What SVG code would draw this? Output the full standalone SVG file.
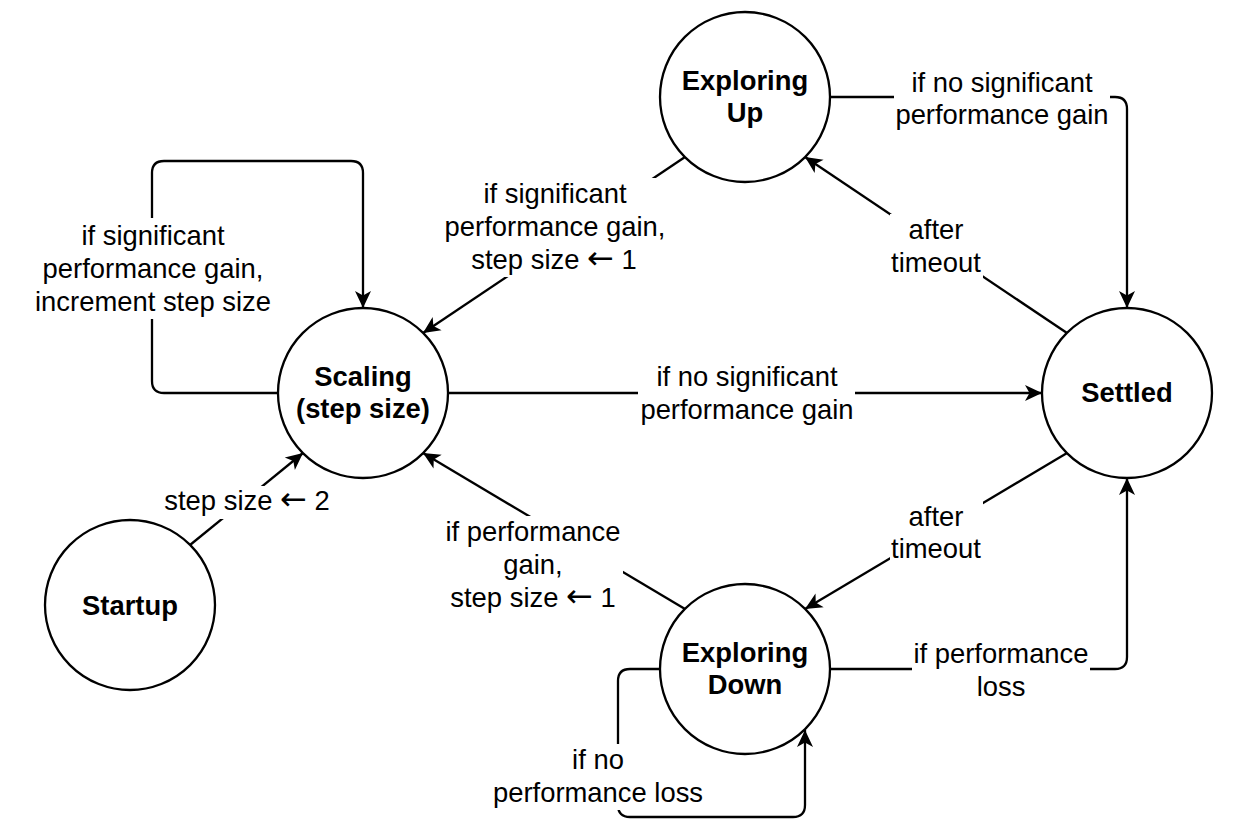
<svg xmlns="http://www.w3.org/2000/svg" width="1240" height="833" viewBox="0 0 1240 833">
<defs>
<style>
.node{fill:#fff;stroke:#000;stroke-width:2.3}
.nt{font-family:"Liberation Sans",Arial,Helvetica,sans-serif;font-size:27.4px;font-weight:bold;text-anchor:middle;fill:#000}
.edge{fill:none;stroke:#000;stroke-width:2.3}
.lt{font-family:"Liberation Sans",Arial,Helvetica,sans-serif;font-size:27.4px;text-anchor:middle;fill:#000}
.ar{font-family:"DejaVu Sans","Liberation Sans",sans-serif;font-size:32px}
.lbg{fill:#fff;stroke:none}
</style>
<marker id="arr" markerUnits="userSpaceOnUse" markerWidth="24" markerHeight="24" viewBox="-20 -12 24 24" refX="0" refY="0" orient="auto">
<path d="M0,0 L-17,-8 L-12.5,0 L-17,8 Z" fill="#000"/>
</marker>
</defs>
<rect width="1240" height="833" fill="#fff"/>
<g id="connectors">
<!-- Scaling self loop -->
<path class="edge" d="M278,393 L164,393 Q152,393 152,381 L152,173 Q152,161 164,161 L351,161 Q363,161 363,173 L363,308" marker-end="url(#arr)"/>
<!-- Exploring Up -> Scaling -->
<path class="edge" d="M685,157 L423,333" marker-end="url(#arr)"/>
<!-- Scaling -> Settled -->
<path class="edge" d="M448,393 L1042,393" marker-end="url(#arr)"/>
<!-- Startup -> Scaling -->
<path class="edge" d="M190,545 L303,453" marker-end="url(#arr)"/>
<!-- Exploring Down -> Scaling -->
<path class="edge" d="M685,609 L423,453" marker-end="url(#arr)"/>
<!-- Settled -> Exploring Up -->
<path class="edge" d="M1067,333 L805,157" marker-end="url(#arr)"/>
<!-- Settled -> Exploring Down -->
<path class="edge" d="M1067,453 L805,609" marker-end="url(#arr)"/>
<!-- Exploring Up -> Settled -->
<path class="edge" d="M830,97 L1115,97 Q1127,97 1127,109 L1127,308" marker-end="url(#arr)"/>
<!-- Exploring Down -> Settled -->
<path class="edge" d="M830,669 L1115,669 Q1127,669 1127,657 L1127,478" marker-end="url(#arr)"/>
<!-- Exploring Down self loop -->
<path class="edge" d="M661,669 L630,669 Q618,669 618,681 L618,805 Q618,817 630,817 L793,817 Q805,817 805,805 L805,730" marker-end="url(#arr)"/>

<g id="labels">
<rect class="lbg" x="33" y="218" width="240" height="101"/>
<text class="lt" x="153" y="245">if significant</text>
<text class="lt" x="153" y="278">performance gain,</text>
<text class="lt" x="153" y="311">increment step size</text>

<rect class="lbg" x="442" y="178" width="226" height="99"/>
<text class="lt" x="555" y="203">if significant</text>
<text class="lt" x="555" y="236">performance gain,</text>
<text class="lt" x="554" y="269">step size <tspan class="ar">←</tspan> 1</text>

<rect class="lbg" x="638" y="362" width="217" height="66"/>
<text class="lt" x="747" y="386">if no significant</text>
<text class="lt" x="747" y="419">performance gain</text>

<rect class="lbg" x="160" y="486" width="174" height="33"/>
<text class="lt" x="247" y="510">step size <tspan class="ar">←</tspan> 2</text>

<rect class="lbg" x="444" y="516" width="179" height="98"/>
<text class="lt" x="533" y="541">if performance</text>
<text class="lt" x="533" y="574">gain,</text>
<text class="lt" x="533" y="607">step size <tspan class="ar">←</tspan> 1</text>

<rect class="lbg" x="890" y="214" width="93" height="66"/>
<text class="lt" x="936" y="239">after</text>
<text class="lt" x="936" y="272">timeout</text>

<rect class="lbg" x="890" y="500" width="93" height="66"/>
<text class="lt" x="936" y="526">after</text>
<text class="lt" x="936" y="558">timeout</text>

<rect class="lbg" x="894" y="67" width="216" height="66"/>
<text class="lt" x="1002" y="92">if no significant</text>
<text class="lt" x="1002" y="124">performance gain</text>

<rect class="lbg" x="912" y="638" width="178" height="66"/>
<text class="lt" x="1001" y="663">if performance</text>
<text class="lt" x="1001" y="696">loss</text>

<rect class="lbg" x="492" y="744" width="212" height="66"/>
<text class="lt" x="598" y="769">if no</text>
<text class="lt" x="598" y="802">performance loss</text>
</g>
</g>

<g id="node-exploring-up">
<circle class="node" cx="745" cy="97" r="85"/>
<text class="nt" x="745" y="90">Exploring</text>
<text class="nt" x="745" y="122">Up</text>
</g>
<g id="node-scaling">
<circle class="node" cx="363" cy="393" r="85"/>
<text class="nt" x="363" y="386">Scaling</text>
<text class="nt" x="363" y="418">(step size)</text>
</g>
<g id="node-settled">
<circle class="node" cx="1127" cy="393" r="85"/>
<text class="nt" x="1127" y="402">Settled</text>
</g>
<g id="node-startup">
<circle class="node" cx="130" cy="605" r="85"/>
<text class="nt" x="130" y="615">Startup</text>
</g>
<g id="node-exploring-down">
<circle class="node" cx="745" cy="669" r="85"/>
<text class="nt" x="745" y="662">Exploring</text>
<text class="nt" x="745" y="694">Down</text>
</g>
</svg>
